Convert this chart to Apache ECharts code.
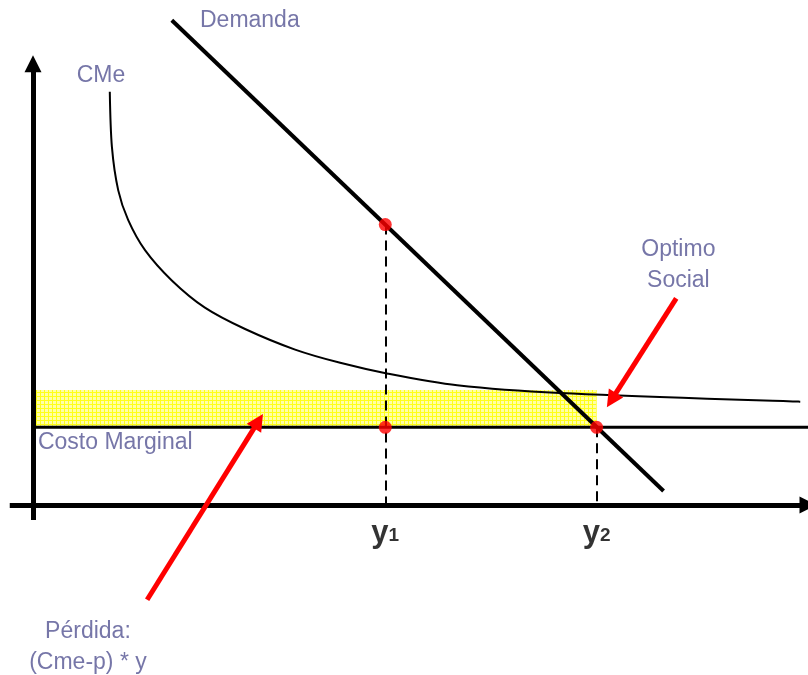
<!DOCTYPE html>
<html>
<head>
<meta charset="utf-8">
<script src="https://cdn.jsdelivr.net/npm/echarts@6/dist/echarts.min.js"></script>
<style>
html,body{margin:0;padding:0;background:#fff;}
#chart{width:808px;height:675px;}
</style>
</head>
<body>
<div id="chart"></div>
<script>
// cantidades y precios en unidades del diagrama
var qTicks = [5, 8];
var qTickNames = ['1', '2'];
var marginalCost = 10;
var cmeAtOptimum = 14.8;
var demand = [[1.97, 62.4], [8.95, 1.8]];
var cme = [[1.09, 53.2], [1.12, 46.1], [1.21, 40.5], [1.35, 36.7], [1.59, 32.8],
    [1.97, 28.9], [2.44, 25.4], [3.01, 22.65], [3.72, 20.0], [4.36, 18.3],
    [5.04, 16.9], [6.02, 15.4], [7.48, 14.4], [10.89, 13.3]];
var demandAtY1 = 36.1;
var xAxisEnds = [[-0.33, 0], [11, 0]];
var yAxisEnds = [[0, -1.93], [0, 56.8]];
var lossArrow = [[1.62, -12.2], [3.2, 10.8]];
var optimumArrow = [[9.13, 26.6], [8.21, 13.5]];

var textColor = '#545492';
var font = '"Liberation Sans", Arial, sans-serif';

// textura amarilla de la pérdida
var pat = document.createElement('canvas');
pat.width = 4; pat.height = 4;
var ctx = pat.getContext('2d');
ctx.fillStyle = '#ffffa6';
ctx.fillRect(0, 0, 4, 4);
ctx.fillStyle = '#ffff1a';
ctx.fillRect(0, 0, 4, 1);
ctx.fillRect(0, 0, 1, 4);

var labels = [
    {text: 'Demanda', at: [2.37, 62.4], align: 'left'},
    {text: 'CMe', at: [0.62, 55.3], align: 'left'},
    {text: 'Costo Marginal', at: [0.07, 8.0], align: 'left'},
    {text: 'Optimo\nSocial', at: [9.16, 30.9], align: 'center'},
    {text: 'Pérdida:\n(Cme-p) * y', at: [0.78, -18.3], align: 'center'}
];

function seg(a, b) {
    return [{coords: [a, b]}];
}

var chart = echarts.init(document.getElementById('chart'));
chart.setOption({
    animation: false,
    grid: {left: 33, right: 0, top: 0, bottom: 170},
    xAxis: {type: 'value', min: 0, max: 11, show: false},
    yAxis: {type: 'value', min: 0, max: 65, show: false},
    series: [
        {
            // area de pérdida
            type: 'line',
            data: [],
            z: 1,
            markArea: {
                silent: true,
                itemStyle: {color: {image: pat, repeat: 'repeat'}},
                data: [[{coord: [0, marginalCost]}, {coord: [qTicks[1], cmeAtOptimum]}]]
            }
        },
        {
            type: 'lines', coordinateSystem: 'cartesian2d', clip: false, z: 3,
            symbol: ['none', 'triangle'], symbolSize: [16, 17],
            lineStyle: {color: '#000', width: 5, opacity: 1},
            data: seg(xAxisEnds[0], xAxisEnds[1]).concat(seg(yAxisEnds[0], yAxisEnds[1]))
        },
        {
            type: 'line', clip: false, z: 3, symbol: 'none',
            lineStyle: {color: '#000', width: 3},
            data: [[0, marginalCost], [11, marginalCost]]
        },
        {
            type: 'line', clip: false, z: 3, symbol: 'none',
            lineStyle: {color: '#000', width: 4},
            data: demand
        },
        {
            type: 'line', clip: false, z: 3, symbol: 'none',
            smooth: 0.3,
            lineStyle: {color: '#000', width: 2},
            data: cme
        },
        {
            type: 'lines', coordinateSystem: 'cartesian2d', clip: false, z: 2,
            symbol: 'none',
            lineStyle: {color: '#000', width: 2, type: [10, 6], opacity: 1},
            data: seg([qTicks[0], demandAtY1], [qTicks[0], 0]).concat(seg([qTicks[1], marginalCost], [qTicks[1], 0]))
        },
        {
            type: 'lines', coordinateSystem: 'cartesian2d', clip: false, z: 4,
            symbol: ['none', 'triangle'], symbolSize: [17, 17],
            lineStyle: {color: '#ff0000', width: 5, opacity: 1},
            data: seg(lossArrow[0], lossArrow[1]).concat(seg(optimumArrow[0], optimumArrow[1]))
        },
        {
            type: 'scatter', clip: false, z: 5, symbolSize: 13,
            itemStyle: {color: '#ff0000'},
            data: [[qTicks[0], demandAtY1], [qTicks[0], marginalCost], [qTicks[1], marginalCost]]
        },
        {
            type: 'scatter', clip: false, z: 5, symbolSize: 0, silent: true,
            data: qTicks.map(function (q, i) {
                return {
                    value: [q, 0],
                    label: {
                        show: true, position: 'bottom', distance: 13,
                        formatter: '{y|y}{s|' + qTickNames[i] + '}',
                        rich: {
                            y: {fontFamily: font, fontWeight: 'bold', fontSize: 31, color: '#000', verticalAlign: 'bottom'},
                            s: {fontFamily: font, fontWeight: 'bold', fontSize: 19, color: '#000', verticalAlign: 'bottom', padding: [0, 0, 4, 0]}
                        }
                    }
                };
            })
        },
        {
            type: 'scatter', clip: false, z: 5, symbolSize: 0, silent: true,
            data: labels.map(function (l) {
                return {
                    value: l.at,
                    label: {
                        show: true, position: 'inside', formatter: l.text,
                        align: l.align, verticalAlign: 'middle',
                        fontFamily: font, fontSize: 23, lineHeight: 31, color: textColor
                    }
                };
            })
        }
    ]
});
</script>
</body>
</html>
